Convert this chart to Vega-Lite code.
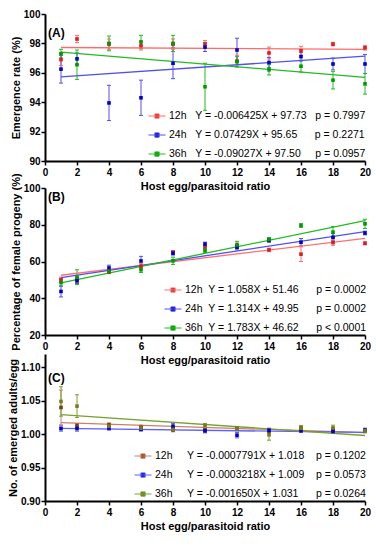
{
"$schema": "https://vega.github.io/schema/vega-lite/v6.json",
"padding": {"left": 7, "top": 9, "right": 5, "bottom": 5},
"bounds": "flush",
"spacing": 27,
"datasets": {
"A_pts": [
{"s":"12h","x":1,"m":96.9,"lo":96.5,"hi":97.3},{"s":"12h","x":2,"m":98.3,"lo":98.05,"hi":98.55},{"s":"12h","x":4,"m":97.95,"lo":97.6,"hi":98.3},{"s":"12h","x":6,"m":97.85,"lo":97.55,"hi":98.15},{"s":"12h","x":8,"m":97.95,"lo":97.6,"hi":98.3},{"s":"12h","x":10,"m":97.95,"lo":97.7,"hi":98.2},{"s":"12h","x":12,"m":96.8,"lo":96.4,"hi":97.2},{"s":"12h","x":14,"m":97.35,"lo":96.95,"hi":97.75},{"s":"12h","x":16,"m":97.5,"lo":97.2,"hi":97.8},{"s":"12h","x":18,"m":97.95,"lo":97.83,"hi":98.07},{"s":"12h","x":20,"m":97.7,"lo":97.55,"hi":97.85},
{"s":"24h","x":1,"m":96.25,"lo":95.3,"hi":97.2},{"s":"24h","x":2,"m":96.95,"lo":96.55,"hi":97.35},{"s":"24h","x":4,"m":93.95,"lo":92.75,"hi":95.15},{"s":"24h","x":6,"m":94.3,"lo":93.1,"hi":95.5},{"s":"24h","x":8,"m":96.65,"lo":95.6,"hi":97.7},{"s":"24h","x":10,"m":97.75,"lo":97.45,"hi":98.05},{"s":"24h","x":12,"m":97.55,"lo":96.75,"hi":98.35},{"s":"24h","x":14,"m":96.7,"lo":96.35,"hi":97.05},{"s":"24h","x":16,"m":97.1,"lo":96.8,"hi":97.4},{"s":"24h","x":18,"m":96.6,"lo":96.2,"hi":97.0},{"s":"24h","x":20,"m":96.6,"lo":95.95,"hi":97.25},
{"s":"36h","x":1,"m":97.3,"lo":97.0,"hi":97.6},{"s":"36h","x":2,"m":96.55,"lo":95.55,"hi":97.55},{"s":"36h","x":4,"m":98.0,"lo":97.5,"hi":98.5},{"s":"36h","x":6,"m":98.1,"lo":97.65,"hi":98.55},{"s":"36h","x":8,"m":98.0,"lo":97.45,"hi":98.55},{"s":"36h","x":10,"m":95.05,"lo":93.45,"hi":96.65},{"s":"36h","x":12,"m":96.75,"lo":96.4,"hi":97.1},{"s":"36h","x":14,"m":96.2,"lo":95.85,"hi":96.55},{"s":"36h","x":16,"m":96.45,"lo":96.05,"hi":96.85},{"s":"36h","x":18,"m":95.5,"lo":94.9,"hi":96.1},{"s":"36h","x":20,"m":95.25,"lo":94.55,"hi":95.95}
],
"A_fit": [
{"s":"12h","x":1,"m":97.72},{"s":"12h","x":20,"m":97.60},
{"s":"24h","x":1,"m":95.72},{"s":"24h","x":20,"m":97.14},
{"s":"36h","x":1,"m":97.41},{"s":"36h","x":20,"m":95.69}
],
"B_pts": [
{"s":"12h","x":1,"m":50,"lo":48.5,"hi":51.5},{"s":"12h","x":2,"m":50,"lo":48.5,"hi":51.5},{"s":"12h","x":4,"m":54.2,"lo":53.4,"hi":55},{"s":"12h","x":6,"m":57.5,"lo":56,"hi":59},{"s":"12h","x":8,"m":65,"lo":64,"hi":66},{"s":"12h","x":10,"m":68,"lo":67,"hi":69},{"s":"12h","x":12,"m":68.6,"lo":67.1,"hi":70.1},{"s":"12h","x":14,"m":66.3,"lo":65.3,"hi":67.3},{"s":"12h","x":16,"m":64,"lo":60,"hi":68},{"s":"12h","x":18,"m":70.3,"lo":68.8,"hi":71.8},{"s":"12h","x":20,"m":69.9,"lo":69.1,"hi":70.7},
{"s":"24h","x":1,"m":43.7,"lo":40.7,"hi":46.7},{"s":"24h","x":2,"m":49.5,"lo":48,"hi":51},{"s":"24h","x":4,"m":56.5,"lo":55,"hi":58},{"s":"24h","x":6,"m":60.3,"lo":57.8,"hi":62.8},{"s":"24h","x":8,"m":64.5,"lo":63.5,"hi":65.5},{"s":"24h","x":10,"m":69.5,"lo":68.5,"hi":70.5},{"s":"24h","x":12,"m":67.8,"lo":66.3,"hi":69.3},{"s":"24h","x":14,"m":71.5,"lo":70.5,"hi":72.5},{"s":"24h","x":16,"m":70.5,"lo":68.5,"hi":72.5},{"s":"24h","x":18,"m":73.2,"lo":71.2,"hi":75.2},{"s":"24h","x":20,"m":75.5,"lo":74.5,"hi":76.5},
{"s":"36h","x":1,"m":48.5,"lo":46.5,"hi":50.5},{"s":"36h","x":2,"m":51.5,"lo":47.5,"hi":55.5},{"s":"36h","x":4,"m":54.7,"lo":53.7,"hi":55.7},{"s":"36h","x":6,"m":55.5,"lo":54,"hi":57},{"s":"36h","x":8,"m":60.4,"lo":58.4,"hi":62.4},{"s":"36h","x":10,"m":66,"lo":65,"hi":67},{"s":"36h","x":12,"m":69,"lo":67,"hi":71},{"s":"36h","x":14,"m":72,"lo":71,"hi":73},{"s":"36h","x":16,"m":79.6,"lo":78.6,"hi":80.6},{"s":"36h","x":18,"m":76,"lo":73,"hi":79},{"s":"36h","x":20,"m":80.5,"lo":78,"hi":83}
],
"B_fit": [
{"s":"12h","x":1,"m":52.52},{"s":"12h","x":20,"m":72.62},
{"s":"24h","x":1,"m":51.26},{"s":"24h","x":20,"m":76.23},
{"s":"36h","x":1,"m":48.40},{"s":"36h","x":20,"m":82.28}
],
"C_pts": [
{"s":"12h","x":1,"m":1.040,"lo":1.014,"hi":1.066},{"s":"12h","x":2,"m":1.013,"lo":1.010,"hi":1.016},{"s":"12h","x":4,"m":1.014,"lo":1.011,"hi":1.017},{"s":"12h","x":6,"m":1.0105,"lo":1.0075,"hi":1.0135},{"s":"12h","x":8,"m":1.0065,"lo":1.0035,"hi":1.0095},{"s":"12h","x":10,"m":1.0065,"lo":1.0035,"hi":1.0095},{"s":"12h","x":12,"m":1.0085,"lo":1.0055,"hi":1.0115},{"s":"12h","x":14,"m":1.004,"lo":1.001,"hi":1.007},{"s":"12h","x":16,"m":1.0095,"lo":1.0065,"hi":1.0125},{"s":"12h","x":18,"m":1.0065,"lo":1.0035,"hi":1.0095},{"s":"12h","x":20,"m":1.0055,"lo":1.0025,"hi":1.0085},
{"s":"24h","x":1,"m":1.0085,"lo":1.0045,"hi":1.0125},{"s":"24h","x":2,"m":1.0085,"lo":1.0045,"hi":1.0125},{"s":"24h","x":4,"m":1.009,"lo":1.006,"hi":1.012},{"s":"24h","x":6,"m":1.0075,"lo":1.0045,"hi":1.0105},{"s":"24h","x":8,"m":1.012,"lo":1.008,"hi":1.016},{"s":"24h","x":10,"m":1.005,"lo":1.002,"hi":1.008},{"s":"24h","x":12,"m":0.9985,"lo":0.9945,"hi":1.0025},{"s":"24h","x":14,"m":1.006,"lo":1.003,"hi":1.009},{"s":"24h","x":16,"m":1.005,"lo":1.003,"hi":1.007},{"s":"24h","x":18,"m":1.004,"lo":1.001,"hi":1.007},{"s":"24h","x":20,"m":1.006,"lo":1.003,"hi":1.009},
{"s":"36h","x":1,"m":1.049,"lo":1.027,"hi":1.071},{"s":"36h","x":2,"m":1.042,"lo":1.025,"hi":1.059},{"s":"36h","x":4,"m":1.012,"lo":1.009,"hi":1.015},{"s":"36h","x":6,"m":1.009,"lo":1.006,"hi":1.012},{"s":"36h","x":8,"m":1.007,"lo":1.004,"hi":1.010},{"s":"36h","x":10,"m":1.013,"lo":1.010,"hi":1.016},{"s":"36h","x":12,"m":1.008,"lo":1.005,"hi":1.011},{"s":"36h","x":14,"m":0.999,"lo":0.991,"hi":1.007},{"s":"36h","x":16,"m":1.009,"lo":1.005,"hi":1.013},{"s":"36h","x":18,"m":1.0095,"lo":1.0055,"hi":1.0135},{"s":"36h","x":20,"m":1.005,"lo":1.002,"hi":1.008}
],
"C_fit": [
{"s":"12h","x":1,"m":1.0172},{"s":"12h","x":20,"m":1.0024},
{"s":"24h","x":1,"m":1.0087},{"s":"24h","x":20,"m":1.0026},
{"s":"36h","x":1,"m":1.0294},{"s":"36h","x":20,"m":0.998}
]
},
"vconcat": [
{
"width": 320, "height": 147,
"title": {"text": "(A)", "anchor": "start", "frame": "group", "offset": -25, "dy": 6, "dx": 3, "fontSize": 12, "fontWeight": "bold", "color": "black"},
"encoding": {
  "x": {"field": "x", "type": "quantitative", "title": "Host egg/parasitoid ratio", "scale": {"domain": [0, 20]}, "axis": {"values": [0,2,4,6,8,10,12,14,16,18,20], "labelOverlap": false, "labelFlush": false}}
},
"layer": [
{"data": {"name": "A_pts"}, "mark": {"type": "rule", "strokeWidth": 1},
 "encoding": {
  "y": {"field": "lo", "type": "quantitative", "title": "Emergence rate (%)", "scale": {"domain": [90, 100]}, "axis": {"values": [90,92,94,96,98,100], "labelOverlap": false}},
  "y2": {"field": "hi"},
  "stroke": {"field": "s", "type": "nominal", "scale": {"domain": ["12h","24h","36h"], "range": ["#ff6b6b","#5050ee","#22bb22"]}}
 }},
{"data": {"name": "A_pts"}, "mark": {"type": "point", "shape": "M-1,0H1", "size": 16, "filled": false, "strokeWidth": 1, "opacity": 1},
 "encoding": {
  "y": {"field": "lo", "type": "quantitative", "title": "Emergence rate (%)", "axis": {"values": [90,92,94,96,98,100], "labelOverlap": false}},
  "stroke": {"field": "s", "type": "nominal", "scale": {"domain": ["12h","24h","36h"], "range": ["#ff6b6b","#5050ee","#22bb22"]}}
 }},
{"data": {"name": "A_pts"}, "mark": {"type": "point", "shape": "M-1,0H1", "size": 16, "filled": false, "strokeWidth": 1, "opacity": 1},
 "encoding": {
  "y": {"field": "hi", "type": "quantitative", "title": "Emergence rate (%)", "axis": {"values": [90,92,94,96,98,100], "labelOverlap": false}},
  "stroke": {"field": "s", "type": "nominal", "scale": {"domain": ["12h","24h","36h"], "range": ["#ff6b6b","#5050ee","#22bb22"]}}
 }},
{"data": {"name": "A_fit"}, "mark": {"type": "line", "strokeWidth": 1.3},
 "encoding": {
  "y": {"field": "m", "type": "quantitative", "title": "Emergence rate (%)", "axis": {"values": [90,92,94,96,98,100], "labelOverlap": false}},
  "stroke": {"field": "s", "type": "nominal", "scale": {"domain": ["12h","24h","36h"], "range": ["#ff6b6b","#5050ee","#22bb22"]},
   "legend": {"orient": "none", "legendX": 103, "legendY": 93, "title": null, "symbolType": "M-1,0H1M-0.25,-0.25H0.25V0.25H-0.25Z", "symbolSize": 289,
    "labelExpr": "{'12h':'12h\u00a0\u00a0\u00a0Y = -0.006425X + 97.73\u00a0\u00a0\u00a0p = 0.7997','24h':'24h\u00a0\u00a0\u00a0Y = 0.07429X + 95.65\u00a0\u00a0\u00a0\u00a0\u00a0\u00a0p = 0.2271','36h':'36h\u00a0\u00a0\u00a0Y = -0.09027X + 97.50\u00a0\u00a0\u00a0\u00a0\u00a0p = 0.0957'}[datum.label]"}}
 }},
{"data": {"name": "A_pts"}, "mark": {"type": "point", "shape": "square", "size": 13, "filled": true, "opacity": 1},
 "encoding": {
  "y": {"field": "m", "type": "quantitative", "title": "Emergence rate (%)", "axis": {"values": [90,92,94,96,98,100], "labelOverlap": false}},
  "fill": {"field": "s", "type": "nominal", "scale": {"domain": ["12h","24h","36h"], "range": ["#e41a1c","#0000cc","#009900"]},
   "legend": {"orient": "none", "legendX": 103, "legendY": 93, "title": null, "symbolType": "M-1,0H1M-0.25,-0.25H0.25V0.25H-0.25Z", "symbolSize": 289,
    "labelExpr": "{'12h':'12h\u00a0\u00a0\u00a0Y = -0.006425X + 97.73\u00a0\u00a0\u00a0p = 0.7997','24h':'24h\u00a0\u00a0\u00a0Y = 0.07429X + 95.65\u00a0\u00a0\u00a0\u00a0\u00a0\u00a0p = 0.2271','36h':'36h\u00a0\u00a0\u00a0Y = -0.09027X + 97.50\u00a0\u00a0\u00a0\u00a0\u00a0p = 0.0957'}[datum.label]"}}
 }}
]
},
{
"bounds": "flush",
"spacing": 19,
"resolve": {"scale": {"stroke": "independent", "fill": "independent"}, "legend": {"stroke": "independent", "fill": "independent"}},
"vconcat": [
{
"width": 320, "height": 147,
"title": {"text": "(B)", "anchor": "start", "frame": "group", "offset": -25, "dy": 6, "dx": 3, "fontSize": 12, "fontWeight": "bold", "color": "black"},
"encoding": {
  "x": {"field": "x", "type": "quantitative", "title": "Host egg/parasitoid ratio", "scale": {"domain": [0, 20]}, "axis": {"values": [0,2,4,6,8,10,12,14,16,18,20], "labelOverlap": false, "labelFlush": false}}
},
"layer": [
{"data": {"name": "B_pts"}, "mark": {"type": "rule", "strokeWidth": 1},
 "encoding": {
  "y": {"field": "lo", "type": "quantitative", "title": "Percentage of female progeny (%)", "scale": {"domain": [20, 100]}, "axis": {"values": [20,40,60,80,100], "labelOverlap": false}},
  "y2": {"field": "hi"},
  "stroke": {"field": "s", "type": "nominal", "scale": {"domain": ["12h","24h","36h"], "range": ["#ff7070","#5050ee","#22bb22"]}}
 }},
{"data": {"name": "B_pts"}, "mark": {"type": "point", "shape": "M-1,0H1", "size": 16, "filled": false, "strokeWidth": 1, "opacity": 1},
 "encoding": {
  "y": {"field": "lo", "type": "quantitative", "title": "Percentage of female progeny (%)", "axis": {"values": [20,40,60,80,100], "labelOverlap": false}},
  "stroke": {"field": "s", "type": "nominal", "scale": {"domain": ["12h","24h","36h"], "range": ["#ff7070","#5050ee","#22bb22"]}}
 }},
{"data": {"name": "B_pts"}, "mark": {"type": "point", "shape": "M-1,0H1", "size": 16, "filled": false, "strokeWidth": 1, "opacity": 1},
 "encoding": {
  "y": {"field": "hi", "type": "quantitative", "title": "Percentage of female progeny (%)", "axis": {"values": [20,40,60,80,100], "labelOverlap": false}},
  "stroke": {"field": "s", "type": "nominal", "scale": {"domain": ["12h","24h","36h"], "range": ["#ff7070","#5050ee","#22bb22"]}}
 }},
{"data": {"name": "B_fit"}, "mark": {"type": "line", "strokeWidth": 1.3},
 "encoding": {
  "y": {"field": "m", "type": "quantitative", "title": "Percentage of female progeny (%)", "axis": {"values": [20,40,60,80,100], "labelOverlap": false}},
  "stroke": {"field": "s", "type": "nominal", "scale": {"domain": ["12h","24h","36h"], "range": ["#ff7070","#5050ee","#22bb22"]},
   "legend": {"orient": "none", "legendX": 119, "legendY": 93, "title": null, "symbolType": "M-1,0H1M-0.25,-0.25H0.25V0.25H-0.25Z", "symbolSize": 289,
    "labelExpr": "{'12h':'12h\u00a0\u00a0Y = 1.058X + 51.46\u00a0\u00a0\u00a0\u00a0\u00a0\u00a0p = 0.0002','24h':'24h\u00a0\u00a0Y = 1.314X + 49.95\u00a0\u00a0\u00a0\u00a0\u00a0\u00a0p = 0.0002','36h':'36h\u00a0\u00a0Y = 1.783X + 46.62\u00a0\u00a0\u00a0\u00a0\u00a0\u00a0p < 0.0001'}[datum.label]"}}
 }},
{"data": {"name": "B_pts"}, "mark": {"type": "point", "shape": "square", "size": 13, "filled": true, "opacity": 1},
 "encoding": {
  "y": {"field": "m", "type": "quantitative", "title": "Percentage of female progeny (%)", "axis": {"values": [20,40,60,80,100], "labelOverlap": false}},
  "fill": {"field": "s", "type": "nominal", "scale": {"domain": ["12h","24h","36h"], "range": ["#d42020","#0000cc","#009900"]},
   "legend": {"orient": "none", "legendX": 119, "legendY": 93, "title": null, "symbolType": "M-1,0H1M-0.25,-0.25H0.25V0.25H-0.25Z", "symbolSize": 289,
    "labelExpr": "{'12h':'12h\u00a0\u00a0Y = 1.058X + 51.46\u00a0\u00a0\u00a0\u00a0\u00a0\u00a0p = 0.0002','24h':'24h\u00a0\u00a0Y = 1.314X + 49.95\u00a0\u00a0\u00a0\u00a0\u00a0\u00a0p = 0.0002','36h':'36h\u00a0\u00a0Y = 1.783X + 46.62\u00a0\u00a0\u00a0\u00a0\u00a0\u00a0p < 0.0001'}[datum.label]"}}
 }}
]
},
{
"width": 320, "height": 147,
"title": {"text": "(C)", "anchor": "start", "frame": "group", "offset": -25, "dy": 6, "dx": 3, "fontSize": 12, "fontWeight": "bold", "color": "black"},
"encoding": {
  "x": {"field": "x", "type": "quantitative", "title": "Host egg/parasitoid ratio", "scale": {"domain": [0, 20]}, "axis": {"values": [0,2,4,6,8,10,12,14,16,18,20], "labelOverlap": false, "labelFlush": false}}
},
"layer": [
{"data": {"name": "C_pts"}, "mark": {"type": "rule", "strokeWidth": 1},
 "encoding": {
  "y": {"field": "lo", "type": "quantitative", "title": "No. of emerged adults/egg", "scale": {"domain": [0.9, 1.1]}, "axis": {"values": [0.9,0.95,1.0,1.05,1.1], "format": ".2f", "labelOverlap": false}},
  "y2": {"field": "hi"},
  "stroke": {"field": "s", "type": "nominal", "scale": {"domain": ["12h","24h","36h"], "range": ["#c8806a","#6060ff","#7aa030"]}}
 }},
{"data": {"name": "C_pts"}, "mark": {"type": "point", "shape": "M-1,0H1", "size": 16, "filled": false, "strokeWidth": 1, "opacity": 1},
 "encoding": {
  "y": {"field": "lo", "type": "quantitative", "title": "No. of emerged adults/egg", "axis": {"values": [0.9,0.95,1.0,1.05,1.1], "format": ".2f", "labelOverlap": false}},
  "stroke": {"field": "s", "type": "nominal", "scale": {"domain": ["12h","24h","36h"], "range": ["#c8806a","#6060ff","#7aa030"]}}
 }},
{"data": {"name": "C_pts"}, "mark": {"type": "point", "shape": "M-1,0H1", "size": 16, "filled": false, "strokeWidth": 1, "opacity": 1},
 "encoding": {
  "y": {"field": "hi", "type": "quantitative", "title": "No. of emerged adults/egg", "axis": {"values": [0.9,0.95,1.0,1.05,1.1], "format": ".2f", "labelOverlap": false}},
  "stroke": {"field": "s", "type": "nominal", "scale": {"domain": ["12h","24h","36h"], "range": ["#c8806a","#6060ff","#7aa030"]}}
 }},
{"data": {"name": "C_fit"}, "mark": {"type": "line", "strokeWidth": 1.3},
 "encoding": {
  "y": {"field": "m", "type": "quantitative", "title": "No. of emerged adults/egg", "axis": {"values": [0.9,0.95,1.0,1.05,1.1], "format": ".2f", "labelOverlap": false}},
  "stroke": {"field": "s", "type": "nominal", "scale": {"domain": ["12h","24h","36h"], "range": ["#c8806a","#6060ff","#7aa030"]},
   "legend": {"orient": "none", "legendX": 89, "legendY": 93, "title": null, "symbolType": "M-1,0H1M-0.25,-0.25H0.25V0.25H-0.25Z", "symbolSize": 289,
    "labelExpr": "{'12h':'12h\u00a0\u00a0\u00a0\u00a0\u00a0Y = -0.0007791X + 1.018\u00a0\u00a0\u00a0\u00a0p = 0.1202','24h':'24h\u00a0\u00a0\u00a0\u00a0\u00a0Y = -0.0003218X + 1.009\u00a0\u00a0\u00a0\u00a0p = 0.0573','36h':'36h\u00a0\u00a0\u00a0\u00a0\u00a0Y = -0.001650X + 1.031\u00a0\u00a0\u00a0\u00a0\u00a0\u00a0p = 0.0264'}[datum.label]"}}
 }},
{"data": {"name": "C_pts"}, "mark": {"type": "point", "shape": "square", "size": 13, "filled": true, "opacity": 1},
 "encoding": {
  "y": {"field": "m", "type": "quantitative", "title": "No. of emerged adults/egg", "axis": {"values": [0.9,0.95,1.0,1.05,1.1], "format": ".2f", "labelOverlap": false}},
  "fill": {"field": "s", "type": "nominal", "scale": {"domain": ["12h","24h","36h"], "range": ["#7b3f10","#0000cc","#7a7a20"]},
   "legend": {"orient": "none", "legendX": 89, "legendY": 93, "title": null, "symbolType": "M-1,0H1M-0.25,-0.25H0.25V0.25H-0.25Z", "symbolSize": 289,
    "labelExpr": "{'12h':'12h\u00a0\u00a0\u00a0\u00a0\u00a0Y = -0.0007791X + 1.018\u00a0\u00a0\u00a0\u00a0p = 0.1202','24h':'24h\u00a0\u00a0\u00a0\u00a0\u00a0Y = -0.0003218X + 1.009\u00a0\u00a0\u00a0\u00a0p = 0.0573','36h':'36h\u00a0\u00a0\u00a0\u00a0\u00a0Y = -0.001650X + 1.031\u00a0\u00a0\u00a0\u00a0\u00a0\u00a0p = 0.0264'}[datum.label]"}}
 }}
]
}
]
}
],
"resolve": {"scale": {"stroke": "independent", "fill": "independent"}, "legend": {"stroke": "independent", "fill": "independent"}},
"config": {
 "font": "Liberation Sans",
 "view": {"stroke": null},
 "axis": {"domainColor": "black", "domainWidth": 2, "tickColor": "black", "tickWidth": 1.5, "tickSize": 4, "labelFontSize": 10, "labelFontWeight": "bold", "labelColor": "black", "titleFontSize": 11, "titleFontWeight": "bold", "titleColor": "black", "grid": false, "labelPadding": 1, "labelOverlap": false, "labelFlush": false, "labelBound": false},
 "axisX": {"labelPadding": 2, "titlePadding": 3},
 "axisY": {"titlePadding": 2},
 "legend": {"labelFontSize": 10.5, "labelColor": "black", "labelLimit": 400, "rowPadding": 4, "labelOffset": 3, "padding": 0, "symbolStrokeWidth": 1}
}
}
